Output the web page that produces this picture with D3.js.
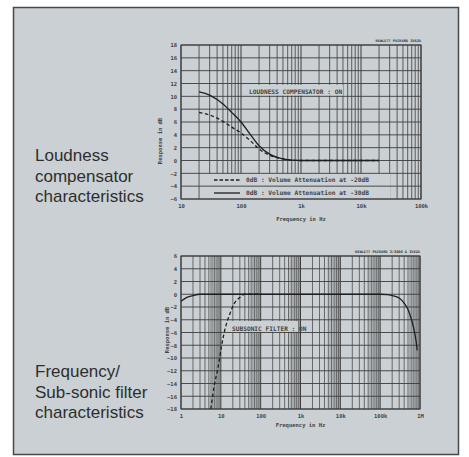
<!DOCTYPE html>
<html>
<head>
<meta charset="utf-8">
<script src="https://cdn.jsdelivr.net/npm/d3@7/dist/d3.min.js"></script>
<style>
  body { margin: 0; background: #fff; }
  svg { display: block; }
</style>
</head>
<body>
<div id="chart"></div>
<script>
// loudness compensator (top)
const loudFreq = [20, 30, 40, 50, 70, 100, 150, 200, 300, 500, 700, 1000, 2000, 5000, 10000, 20000]
const loudMinus30 = [10.7, 10.2, 9.5, 8.8, 7.5, 6.0, 3.8, 2.3, 1.0, 0.25, 0.05, 0, 0, 0, 0, 0]
const loudMinus20 = [7.5, 7.1, 6.6, 6.1, 5.2, 4.3, 2.9, 1.8, 0.8, 0.25, 0.05, 0, 0, 0, 0, 0]
const topXTicks = [10, 100, 1000, 10000, 100000]
const topXLabels = ["10", "100", "1k", "10k", "100k"]
const topYTicks = [18, 16, 14, 12, 10, 8, 6, 4, 2, 0, -2, -4, -6]

// frequency / subsonic filter (bottom)
const respFreq = [1, 1.4, 2, 3, 5, 10, 100, 1000, 10000, 100000, 150000, 200000, 300000, 400000, 500000, 600000, 700000, 800000, 850000]
const respDb = [-1.1, -0.5, -0.2, 0, 0, 0, 0, 0, 0, 0, -0.05, -0.2, -0.6, -1.4, -2.4, -3.8, -5.4, -7.4, -8.8]
const subFreq = [5.6, 7, 8.5, 10.5, 12.6, 17, 22, 30, 40, 100]
const subDb = [-18, -14, -11.5, -8, -5.6, -3, -1.4, -0.5, 0, 0]
const botXTicks = [1, 10, 100, 1000, 10000, 100000, 1000000]
const botXLabels = ["1", "10", "100", "1k", "10k", "100k", "1M"]
const botYTicks = [6, 4, 2, 0, -2, -4, -6, -8, -10, -12, -14, -16, -18]

const W = 469, H = 457
const BG = "#cad0d3"
const INK = "#3c3c3c"
const PLOT_FONT = "DejaVu Sans Mono"

const svg = d3.select("#chart").append("svg")
  .attr("width", W)
  .attr("height", H)

// panel
svg.append("rect")
  .attr("x", 13.5).attr("y", 7.5)
  .attr("width", 445).attr("height", 447)
  .attr("fill", BG)
  .attr("stroke", "#4a4a4a")
  .attr("stroke-width", 1.5)

// left captions
function caption(lines, y0) {
  const t = svg.append("text")
    .attr("x", 35)
    .attr("y", y0)
    .attr("font-family", "Liberation Sans, Arial, sans-serif")
    .attr("font-size", "17px")
    .attr("fill", "#2e2e2e")
  lines.forEach((l, i) => {
    t.append("tspan").attr("x", 35).attr("dy", i === 0 ? 0 : 20.5).text(l)
  })
}
caption(["Loudness", "compensator", "characteristics"], 161)
caption(["Frequency/", "Sub-sonic filter", "characteristics"], 377)

// 1..9 per decade; the lower plot also has faint half steps from 5 to 10
function minorValues(domain) {
  const out = []
  for (let d = domain[0]; d < domain[1]; d *= 10) {
    [2, 3, 4, 5, 6, 7, 8, 9].forEach(s => out.push(d * s))
  }
  return out
}
function halfValues(domain) {
  const out = []
  for (let d = domain[0]; d < domain[1]; d *= 10) {
    [5.5, 6.5, 7.5, 8.5, 9.5].forEach(s => out.push(d * s))
  }
  return out
}

function drawPlot(cfg) {
  const g = svg.append("g")
  const x = d3.scaleLog().domain(cfg.xDomain).range(cfg.xRange)
  const y = d3.scaleLinear().domain(cfg.yDomain).range(cfg.yRange)
  const [x0, x1] = cfg.xRange
  const [y0, y1] = cfg.yRange

  // vertical grid
  if (cfg.dense) {
    g.append("g").selectAll("line")
      .data(halfValues(cfg.xDomain))
      .enter().append("line")
      .attr("x1", d => x(d)).attr("x2", d => x(d))
      .attr("y1", y0).attr("y2", y1)
      .attr("stroke", "#8a8f92")
      .attr("stroke-width", 0.7)
  }
  g.append("g").selectAll("line")
    .data(minorValues(cfg.xDomain))
    .enter().append("line")
    .attr("x1", d => x(d)).attr("x2", d => x(d))
    .attr("y1", y0).attr("y2", y1)
    .attr("stroke", INK)
    .attr("stroke-width", cfg.dense ? 0.7 : 0.8)
  g.append("g").selectAll("line")
    .data(cfg.xTicks)
    .enter().append("line")
    .attr("x1", d => x(d)).attr("x2", d => x(d))
    .attr("y1", y0).attr("y2", y1)
    .attr("stroke", INK)
    .attr("stroke-width", 1)

  // annotation boxes hide the vertical grid
  cfg.boxes.forEach(b => {
    g.append("rect")
      .attr("x", b.x).attr("y", y(b.top))
      .attr("width", b.w).attr("height", y(b.bottom) - y(b.top))
      .attr("fill", BG)
  })

  // horizontal grid
  g.append("g").selectAll("line")
    .data(cfg.yTicks)
    .enter().append("line")
    .attr("x1", x0).attr("x2", x1)
    .attr("y1", d => y(d)).attr("y2", d => y(d))
    .attr("stroke", INK)
    .attr("stroke-width", 0.9)

  // frame
  g.append("rect")
    .attr("x", x0).attr("y", y1)
    .attr("width", x1 - x0).attr("height", y0 - y1)
    .attr("fill", "none")
    .attr("stroke", INK)
    .attr("stroke-width", 1)

  // axes
  const xAxis = d3.axisBottom(x)
    .tickValues(cfg.xTicks)
    .tickFormat((d, i) => cfg.xLabels[i])
    .tickSize(0)
    .tickPadding(5)
  g.append("g")
    .attr("transform", `translate(0, ${y0})`)
    .call(xAxis)
    .call(s => s.select(".domain").remove())
    .selectAll("text")
      .attr("font-family", PLOT_FONT)
      .attr("font-size", "5.5px")
      .attr("font-weight", "bold")
      .attr("fill", "#444")

  const yAxis = d3.axisLeft(y)
    .tickValues(cfg.yTicks)
    .tickSize(0)
    .tickPadding(4)
  g.append("g")
    .attr("transform", `translate(${x0}, 0)`)
    .call(yAxis)
    .call(s => s.select(".domain").remove())
    .selectAll("text")
      .attr("font-family", PLOT_FONT)
      .attr("font-size", "5.5px")
      .attr("font-weight", "bold")
      .attr("fill", "#444")

  g.append("text")
    .attr("x", (x0 + x1) / 2)
    .attr("y", cfg.xLabelY)
    .attr("text-anchor", "middle")
    .attr("font-family", PLOT_FONT)
    .attr("font-size", "5.5px")
    .attr("font-weight", "bold")
    .attr("fill", "#444")
    .text("Frequency in Hz")

  g.append("text")
    .attr("transform", `translate(${cfg.yLabelX}, ${cfg.yLabelY}) rotate(-90)`)
    .attr("text-anchor", "middle")
    .attr("font-family", PLOT_FONT)
    .attr("font-size", "5.5px")
    .attr("font-weight", "bold")
    .attr("fill", "#444")
    .text("Response in dB")

  g.append("text")
    .attr("x", x1)
    .attr("y", y1 - 3)
    .attr("text-anchor", "end")
    .attr("font-family", PLOT_FONT)
    .attr("font-size", "3.6px")
    .attr("font-weight", "bold")
    .attr("fill", "#333")
    .text(cfg.stamp)

  // curves
  const line = d3.line()
    .x(d => x(d[0]))
    .y(d => y(d[1]))
    .curve(d3.curveMonotoneX)
  cfg.series.forEach(s => {
    g.append("path")
      .datum(s.f.map((f, i) => [f, s.v[i]]))
      .attr("d", line)
      .attr("fill", "none")
      .attr("stroke", "#1e1e1e")
      .attr("stroke-width", 1.3)
      .attr("stroke-dasharray", s.dash ? "3.5,2.5" : null)
  })

  // annotation text
  cfg.notes.forEach(n => {
    g.append("text")
      .attr("x", n.x).attr("y", n.y)
      .attr("font-family", PLOT_FONT)
      .attr("font-size", "6.2px")
      .attr("font-weight", "bold")
      .attr("fill", "#444")
      .text(n.text)
  })
  return { g, x, y }
}

// top plot
const loudPlot = drawPlot({
  xDomain: [10, 100000], xRange: [181, 421],
  yDomain: [-6, 18], yRange: [199, 45],
  xTicks: topXTicks, xLabels: topXLabels, yTicks: topYTicks,
  dense: false,
  boxes: [
    { x: 246, w: 97, top: 11.8, bottom: 10.1 },
    { x: 206, w: 184, top: -2, bottom: -6 }
  ],
  xLabelY: 221, yLabelX: 162, yLabelY: 141,
  stamp: "HEWLETT PACKARD 3562A",
  series: [
    { f: loudFreq, v: loudMinus30, dash: false },
    { f: loudFreq, v: loudMinus20, dash: true }
  ],
  notes: [
    { x: 249, y: 94, text: "LOUDNESS COMPENSATOR : ON" },
    { x: 246, y: 182, text: "0dB : Volume Attenuation at -20dB" },
    { x: 246, y: 195, text: "0dB : Volume Attenuation at -30dB" }
  ]
})

// legend samples
loudPlot.g.append("line")
  .attr("x1", 214).attr("x2", 240).attr("y1", 180).attr("y2", 180)
  .attr("stroke", "#1e1e1e").attr("stroke-width", 1.3)
  .attr("stroke-dasharray", "3.5,2")
loudPlot.g.append("line")
  .attr("x1", 214).attr("x2", 240).attr("y1", 193).attr("y2", 193)
  .attr("stroke", "#1e1e1e").attr("stroke-width", 1.3)

// bottom plot
drawPlot({
  xDomain: [1, 1000000], xRange: [181, 420],
  yDomain: [-18, 6], yRange: [409, 256],
  xTicks: botXTicks, xLabels: botXLabels, yTicks: botYTicks,
  dense: true,
  boxes: [
    { x: 230, w: 68, top: -4.2, bottom: -5.9 }
  ],
  xLabelY: 427, yLabelX: 169, yLabelY: 330,
  stamp: "HEWLETT PACKARD 3/3000 & 3562A",
  series: [
    { f: respFreq, v: respDb, dash: false },
    { f: subFreq, v: subDb, dash: true }
  ],
  notes: [
    { x: 232, y: 331, text: "SUBSONIC FILTER : ON" }
  ]
})
</script>
</body>
</html>
